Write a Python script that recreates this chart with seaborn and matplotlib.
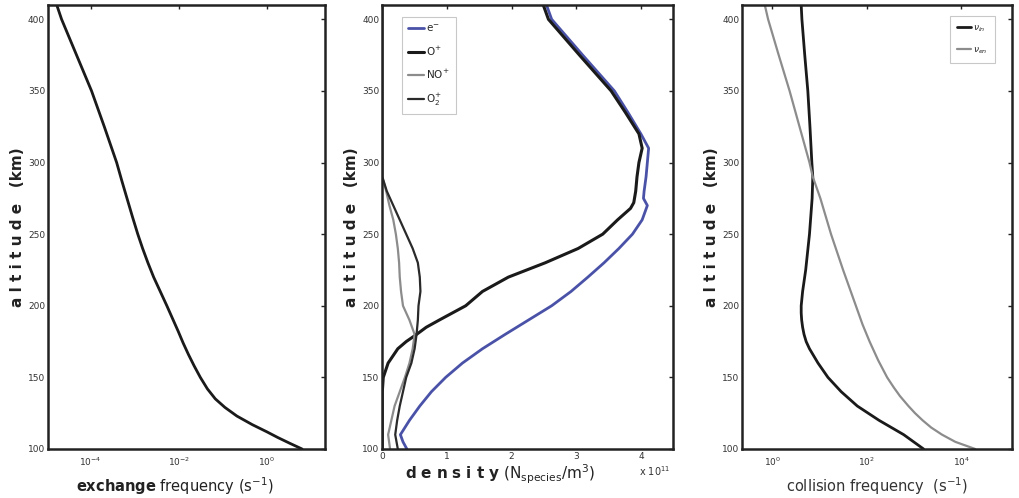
import numpy as np
import pandas as pd
import matplotlib
matplotlib.use("Agg")
import matplotlib.pyplot as plt
import seaborn as sns

# ---------------- data ----------------
# Panel 1: exchange frequency (log10 s^-1) vs altitude
alt_ex = [100, 104, 108, 112, 117, 123, 129, 135, 142, 150, 158, 166, 174, 182, 191, 200, 210,
          220, 230, 240, 250, 262, 275, 287, 300, 325, 350, 375, 400, 410]
log_ex = [0.80, 0.52, 0.25, 0.00, -0.33, -0.68, -0.95, -1.17, -1.35, -1.51, -1.65, -1.78, -1.90,
          -2.01, -2.14, -2.27, -2.42, -2.57, -2.70, -2.82, -2.93, -3.05, -3.175, -3.29, -3.41,
          -3.69, -3.98, -4.32, -4.66, -4.77]

# Panel 2: densities (x 1e11 m^-3) vs altitude
alt_e = [100, 105, 110, 120, 130, 140, 150, 160, 170, 180, 190, 200, 210, 220, 230, 240, 250, 260,
         270, 275, 280, 290, 300, 310, 320, 335, 350, 375, 400, 410]
ne = [0.38, 0.32, 0.28, 0.42, 0.58, 0.76, 0.98, 1.24, 1.55, 1.90, 2.26, 2.62, 2.92, 3.18, 3.43,
      3.66, 3.87, 4.02, 4.10, 4.04, 4.05, 4.08, 4.10, 4.12, 4.00, 3.80, 3.59, 3.10, 2.62, 2.54]
alt_op = [100, 130, 140, 150, 160, 170, 175, 180, 185, 190, 200, 210, 220, 230, 240, 250, 260, 268,
          272, 280, 290, 300, 310, 320, 335, 350, 375, 400, 410]
nop = [0.0, 0.0, 0.0, 0.015, 0.09, 0.24, 0.37, 0.53, 0.68, 0.88, 1.29, 1.55, 1.95, 2.52, 3.03,
       3.41, 3.64, 3.84, 3.89, 3.92, 3.94, 3.97, 4.02, 3.97, 3.76, 3.54, 3.05, 2.57, 2.49]
alt_minor = [100, 110, 120, 130, 140, 150, 160, 170, 180, 190, 200, 210, 220, 230, 240, 250, 260,
             270, 280, 290, 300, 350, 410]
nno = [0.12, 0.09, 0.14, 0.19, 0.27, 0.35, 0.42, 0.47, 0.50, 0.42, 0.32, 0.29, 0.27, 0.26, 0.24,
       0.21, 0.17, 0.11, 0.06, 0.0, 0.0, 0.0, 0.0]
no2 = [0.24, 0.20, 0.23, 0.27, 0.32, 0.37, 0.45, 0.50, 0.53, 0.55, 0.56, 0.59, 0.58, 0.55, 0.47,
       0.37, 0.27, 0.17, 0.07, 0.0, 0.0, 0.0, 0.0]

# Panel 3: collision frequencies (log10 s^-1)
alt_in = [100, 110, 120, 130, 140, 150, 160, 170, 175, 180, 185, 190, 195, 200, 210, 225, 250, 275,
          290, 300, 325, 350, 375, 400, 410]
log_nu_in = [3.20, 2.78, 2.26, 1.80, 1.46, 1.18, 0.97, 0.79, 0.72, 0.675, 0.645, 0.625, 0.615,
             0.615, 0.645, 0.71, 0.79, 0.846, 0.86, 0.84, 0.80, 0.755, 0.69, 0.63, 0.615]
alt_en = [100, 105, 110, 115, 120, 125, 130, 137, 143, 150, 162, 175, 187, 200, 225, 250, 275, 290,
          300, 325, 350, 375, 400, 410]
log_nu_en = [4.29, 3.87, 3.59, 3.36, 3.18, 3.02, 2.88, 2.70, 2.57, 2.43, 2.24, 2.06, 1.91, 1.77,
             1.50, 1.245, 1.02, 0.86, 0.79, 0.58, 0.37, 0.14, -0.084, -0.154]

# ---------------- style ----------------
sns.set_style("white")
plt.rcParams['font.family'] = ['DejaVu Sans']
plt.rcParams['mathtext.fontset'] = 'dejavusans'

BLUE = "#4a52a8"
BLACK = "#1a1a1a"
GRAY = "#8c8c8c"
TICKC = "#333333"

fig = plt.figure(figsize=(10.2, 4.98), dpi=100)
bottom, top = 0.0984, 0.99
ax1 = fig.add_axes([0.047, bottom, 0.3186 - 0.047, top - bottom])
ax2 = fig.add_axes([0.3748, bottom, 0.66 - 0.3748, top - bottom])
ax3 = fig.add_axes([0.7277, bottom, 0.9918 - 0.7277, top - bottom])


def style(ax, xpad=2):
    for s in ax.spines.values():
        s.set_linewidth(1.8)
        s.set_color("#222222")
    ax.tick_params(direction="in", length=3, width=1, top=True, right=True,
                   labelsize=6.5, labelcolor=TICKC, pad=2, colors="#222222")
    ax.tick_params(axis="x", pad=xpad)
    ax.tick_params(axis="both", which="minor", length=0)
    for lab in ax.get_xticklabels() + ax.get_yticklabels():
        lab.set_color(TICKC)
    ax.set_ylim(100, 410)
    ax.set_yticks([100, 150, 200, 250, 300, 350, 400])
    ax.set_ylabel("a l t i t u d e   (km)", fontsize=11, fontweight="bold",
                  color="#222222", labelpad=2)


# Panel 1
d1 = pd.DataFrame({"alt": alt_ex, "f": np.power(10.0, log_ex)})
sns.lineplot(data=d1, x="f", y="alt", sort=False, estimator=None, color=BLACK, lw=2, ax=ax1)
ax1.set_xscale("log")
ax1.set_xlim(10 ** -4.97, 10 ** 1.32)
ax1.set_xticks([1e-4, 1e-2, 1e0])
style(ax1, xpad=5)
ax1.set_xlabel(r"$\mathbf{exchange}$ frequency (s$^{-1}$)", fontsize=10.5, color="#222222")
ax1.xaxis.set_label_coords(0.457, -0.06)

# Panel 2
d2 = pd.concat([
    pd.DataFrame({"alt": alt_e, "n": ne, "species": "e$^{-}$"}),
    pd.DataFrame({"alt": alt_op, "n": nop, "species": "O$^{+}$"}),
    pd.DataFrame({"alt": alt_minor, "n": nno, "species": "NO$^{+}$"}),
    pd.DataFrame({"alt": alt_minor, "n": no2, "species": "O$_2^{+}$"}),
])
d2["n"] = d2["n"] * 1e11
pal = {"e$^{-}$": BLUE, "O$^{+}$": BLACK, "NO$^{+}$": GRAY, "O$_2^{+}$": "#2a2a2a"}
widths = {"e$^{-}$": 2.0, "O$^{+}$": 2.2, "NO$^{+}$": 1.6, "O$_2^{+}$": 1.6}
for sp, g in d2.groupby("species", sort=False):
    sns.lineplot(data=g, x="n", y="alt", sort=False, estimator=None, color=pal[sp],
                 lw=widths[sp], label=sp, ax=ax2)
ax2.set_xlim(0, 4.5e11)
ax2.set_xticks([0, 1e11, 2e11, 3e11, 4e11])
ax2.set_xticklabels(["0", "1", "2", "3", "4"])
style(ax2)
ax2.set_xlabel(r"$\mathbf{d\ e\ n\ s\ i\ t\ y}$ (N$_{\rm species}$/m$^3$)", fontsize=11,
               color="#222222")
ax2.xaxis.set_label_coords(0.405, -0.03)
ax2.text(0.938, -0.05, r"x 10$^{11}$", transform=ax2.transAxes, fontsize=7,
         color=TICKC, ha="center", va="center")
leg = ax2.legend(loc="upper left", bbox_to_anchor=(0.05, 0.985), fontsize=7.5,
                 handlelength=1.5, handletextpad=0.2, labelspacing=1.0,
                 borderpad=0.6, frameon=True, fancybox=False)
leg.get_frame().set_edgecolor("#bbbbbb")
leg.get_frame().set_linewidth(0.8)

# Panel 3
d3 = pd.concat([
    pd.DataFrame({"alt": alt_in, "nu": np.power(10.0, log_nu_in), "kind": r"$\nu_{in}$"}),
    pd.DataFrame({"alt": alt_en, "nu": np.power(10.0, log_nu_en), "kind": r"$\nu_{en}$"}),
])
pal3 = {r"$\nu_{in}$": BLACK, r"$\nu_{en}$": GRAY}
w3 = {r"$\nu_{in}$": 2.0, r"$\nu_{en}$": 1.6}
for k, g in d3.groupby("kind", sort=False):
    sns.lineplot(data=g, x="nu", y="alt", sort=False, estimator=None, color=pal3[k],
                 lw=w3[k], label=k, ax=ax3)
ax3.set_xscale("log")
ax3.set_xlim(10 ** -0.63, 10 ** 5.06)
ax3.set_xticks([1e0, 1e2, 1e4])
style(ax3, xpad=5)
ax3.set_xlabel(r"collision frequency  (s$^{-1}$)", fontsize=10.5, color="#333333")
ax3.xaxis.set_label_coords(0.5, -0.06)
leg3 = ax3.legend(loc="upper right", bbox_to_anchor=(0.955, 0.985), fontsize=6.5,
                  handlelength=1.6, handletextpad=0.2, labelspacing=1.3,
                  borderpad=0.8, frameon=True, fancybox=False)
leg3.get_frame().set_edgecolor("#bbbbbb")
leg3.get_frame().set_linewidth(0.8)

fig.savefig("out.png", dpi=100)
